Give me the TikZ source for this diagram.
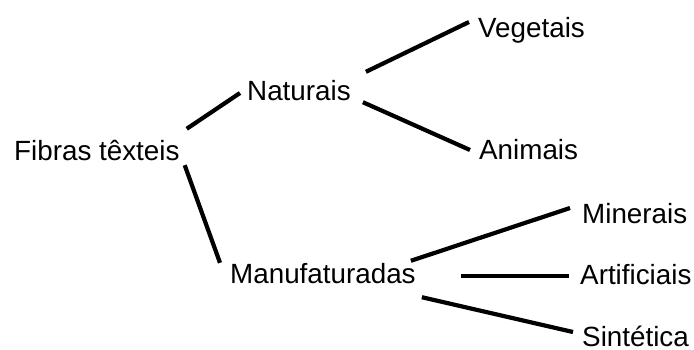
\documentclass[tikz,border=0pt]{standalone}
\usepackage{fontspec}
\setmainfont{Liberation Sans}
\begin{document}
\begin{tikzpicture}[x=1bp,y=-1bp,
  lbl/.style={anchor=base west, inner sep=0pt, text height=19.3bp, text depth=0pt,
    font=\fontsize{27.8bp}{32bp}\selectfont},
  link/.style={line width=4.2bp, black}]
\useasboundingbox (0,0) rectangle (694,349);
\node[lbl] (fib) at (14,160) {Fibras têxteis};
\node[lbl] (nat) at (247,100) {Naturais};
\node[lbl] (veg) at (478,37) {Vegetais};
\node[lbl] (ani) at (479,159) {Animais};
\node[lbl] (man) at (230,283) {Manufaturadas};
\node[lbl] (min) at (582,223) {Minerais};
\node[lbl] (art) at (580,284) {Artificiais};
\node[lbl] (sin) at (582,346) {Sintética};
\draw[link] ([shift={(7,-11.7)}]fib.north east) -- ([shift={(-7,2.65)}]nat.west);
\draw[link] ([shift={(5,5)}]fib.south east) -- ([shift={(-10,-0.7)}]man.north west);
\draw[link] ([shift={(15,-8.7)}]nat.north east) -- ([shift={(-9,-5.35)}]veg.west);
\draw[link] ([shift={(12,2)}]nat.south east) -- ([shift={(-9,0.65)}]ani.west);
\draw[link] ([shift={(-5,-2.7)}]man.north east) -- ([shift={(-12,-5.35)}]min.west);
\draw[link] ([shift={(45,2.65)}]man.east) -- ([shift={(-11,1.65)}]art.west);
\draw[link] ([shift={(6,14)}]man.south east) -- ([shift={(-9,-4.35)}]sin.west);
\end{tikzpicture}
\end{document}
